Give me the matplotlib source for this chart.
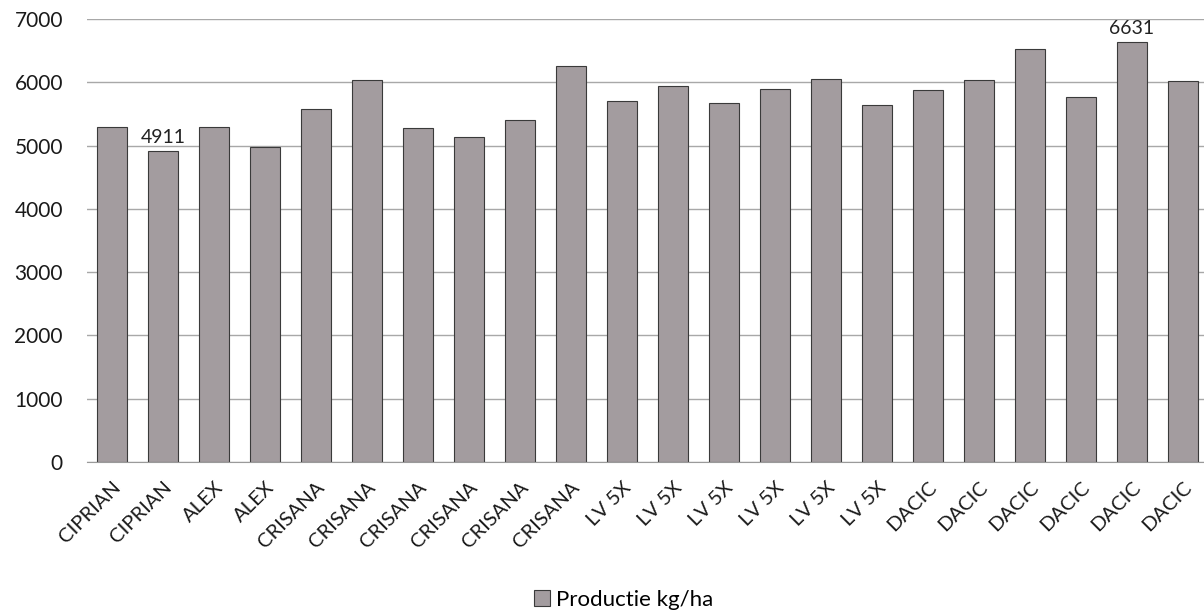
import matplotlib.pyplot as plt
import numpy as np

plt.rcParams["font.family"] = ["Lato", "DejaVu Sans"]

# soiuri si productia (kg/ha)
soiuri = ["CIPRIAN", "CIPRIAN", "ALEX", "ALEX",
          "CRISANA", "CRISANA", "CRISANA", "CRISANA", "CRISANA", "CRISANA",
          "LV 5X", "LV 5X", "LV 5X", "LV 5X", "LV 5X", "LV 5X",
          "DACIC", "DACIC", "DACIC", "DACIC", "DACIC", "DACIC"]
productie = [5290, 4911, 5290, 4985, 5570, 6030,
             5275, 5130, 5400, 6260,
             5705, 5935, 5675, 5900, 6050, 5640,
             5885, 6035, 6520, 5765, 6631, 6020]
etichete = {1: "4911", 20: "6631"}
y_ticks = [0, 1000, 2000, 3000, 4000, 5000, 6000, 7000]

fig = plt.figure(figsize=(12.04, 6.13), dpi=100)
ax = fig.add_axes([86.5 / 1204, 1 - 462 / 613, 1122 / 1204, 443 / 613])

x = np.arange(len(soiuri))
bars = ax.bar(x, productie, width=0.6, color="#a39c9f", edgecolor="#3a3a3a",
              linewidth=0.8, label="Productie kg/ha", zorder=2)

for i, txt in etichete.items():
    ax.text(x[i], productie[i] + 90, txt, ha="center", va="bottom",
            fontsize=14, color="#222222")

ax.set_xlim(-0.5, len(soiuri) - 0.5)
ax.set_ylim(0, 7000)
ax.set_yticks(y_ticks)
ax.set_yticklabels([str(v) for v in y_ticks], fontsize=15, color="#1a1a1a")
ax.yaxis.grid(True, color="#a8a8a8", linewidth=1.0, zorder=0)
ax.tick_params(axis="y", length=0, pad=17)
ax.tick_params(axis="x", length=0, pad=12)

ax.set_xticks(x)
ax.set_xticklabels(soiuri, rotation=45, ha="right", rotation_mode="anchor",
                   fontsize=14.5, color="#1a1a1a")

for s in ["top", "right", "left"]:
    ax.spines[s].set_visible(False)
ax.spines["bottom"].set_color("#9a9a9a")

fig.legend(handles=[bars], labels=["Productie kg/ha"], loc="center",
           bbox_to_anchor=(624 / 1204, 1 - 600 / 613), frameon=False,
           fontsize=16, handlelength=0.7, handleheight=0.7, handletextpad=0.3)

fig.savefig("out.png", dpi=100, facecolor="white")
